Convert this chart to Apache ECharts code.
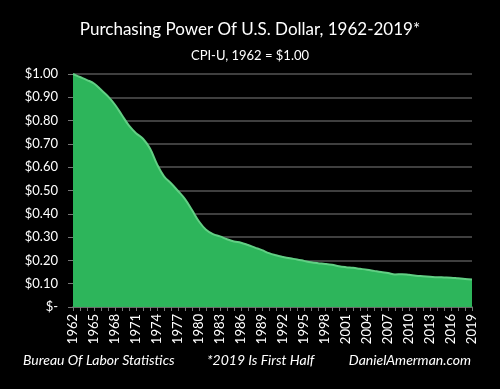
<!DOCTYPE html>
<html><head><meta charset="utf-8">
<script src="https://cdn.jsdelivr.net/npm/echarts@6/dist/echarts.min.js"></script>
<style>html,body{margin:0;padding:0;background:#000;}#c{width:500px;height:389px;}</style>
</head><body><div id="c"></div>
<script>
const years = [];
for (let y = 1962; y <= 2019; y++) years.push(String(y));
const purchasingPower = [
  1.000, 0.987, 0.974, 0.959, 0.932, 0.904, 0.868, 0.823, 0.778, 0.746,
  0.722, 0.680, 0.613, 0.561, 0.531, 0.498, 0.463, 0.416, 0.367, 0.332,
  0.313, 0.303, 0.291, 0.281, 0.276, 0.266, 0.255, 0.244, 0.231, 0.222,
  0.215, 0.209, 0.204, 0.198, 0.192, 0.188, 0.185, 0.181, 0.175, 0.171,
  0.168, 0.164, 0.160, 0.155, 0.150, 0.146, 0.140, 0.141, 0.138, 0.134,
  0.132, 0.130, 0.128, 0.127, 0.126, 0.123, 0.120, 0.118
];
const yTickValues = [0, 0.1, 0.2, 0.3, 0.4, 0.5, 0.6, 0.7, 0.8, 0.9, 1.0];
const titleText = 'Purchasing Power Of U.S. Dollar, 1962-2019*';
const subtitleText = 'CPI-U, 1962 = $1.00';
const footerTexts = ['Bureau Of Labor Statistics', '*2019 Is First Half', 'DanielAmerman.com'];

const chart = echarts.init(document.getElementById('c'), null, {renderer: 'canvas'});
const font = 'Lato';
chart.setOption({
  backgroundColor: '#000',
  animation: false,
  grid: {left: 73, right: 28, top: 74, bottom: 82},
  title: [
    {text: titleText, left: 'center', top: 16, textStyle: {color: '#fff', fontSize: 17, fontWeight: 'normal', fontFamily: font}},
    {text: subtitleText, left: 'center', top: 44, textStyle: {color: '#fff', fontSize: 13, fontWeight: 'normal', fontFamily: font}}
  ],
  graphic: [
    {type: 'text', left: 23, top: 353, style: {text: footerTexts[0], fill: '#fff', font: 'italic 14px ' + font}},
    {type: 'text', left: 207, top: 353, style: {text: footerTexts[1], fill: '#fff', font: 'italic 14px ' + font}},
    {type: 'text', right: 29, top: 353, style: {text: footerTexts[2], fill: '#fff', font: 'italic 14px ' + font}}
  ],
  xAxis: {
    type: 'category', data: years, boundaryGap: false,
    axisLine: {lineStyle: {color: '#777', width: 1.5}},
    axisTick: {show: true, interval: 0, length: 4, lineStyle: {color: '#777'}},
    axisLabel: {interval: 2, rotate: 90, color: '#fff', fontSize: 13, fontFamily: font, margin: 7},
    splitLine: {show: false}
  },
  yAxis: {
    type: 'value', min: 0, max: 1, interval: 0.1,
    axisLine: {show: false},
    axisTick: {show: true, length: 5, lineStyle: {color: '#777'}},
    axisLabel: {color: '#fff', fontSize: 13, fontFamily: font, margin: 15,
      formatter: v => v === 0 ? '$-' : '$' + v.toFixed(2)},
    splitLine: {lineStyle: {color: '#555', width: 1.5}}
  },
  series: [{
    type: 'line', data: purchasingPower, smooth: 0.4, symbol: 'none',
    lineStyle: {color: '#62cf84', width: 2},
    areaStyle: {color: '#2db55b', opacity: 1}
  }]
});
</script></body></html>
